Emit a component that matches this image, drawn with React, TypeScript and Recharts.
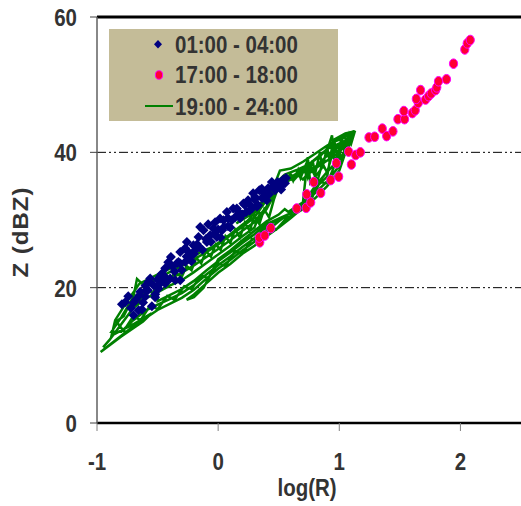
import React from 'react';
import { ScatterChart, Scatter, XAxis, YAxis, ReferenceLine, Legend } from 'recharts';

// log(R), Z(dBZ) pairs
const blue0104: [number, number][] = [
  [-0.794, 17.56], [-0.698, 17.76], [-0.698, 15.94], [-0.629, 16.78], [-0.547, 17.27], [-0.649, 18.89],
  [-0.602, 18.64], [-0.657, 16.68], [-0.643, 19.38], [-0.575, 20.86], [-0.561, 21.36], [-0.533, 20.37],
  [-0.505, 20.12], [-0.492, 19.88], [-0.464, 21.11], [-0.464, 22.1], [-0.437, 20.62], [-0.396, 21.36],
  [-0.354, 21.11], [-0.313, 21.11], [-0.313, 23.57], [-0.272, 23.81], [-0.39, 24.55], [-0.327, 23.81],
  [-0.313, 25.28], [-0.258, 26.76], [-0.245, 25.28], [-0.204, 26.27], [-0.162, 27.5], [-0.121, 28.49],
  [-0.093, 26.76], [-0.148, 28.97], [-0.066, 27.75], [-0.039, 28.74], [-0.011, 27.5], [0.016, 30.21],
  [0.044, 29.96], [0.072, 31.19], [0.113, 29.96], [0.124, 31.69], [0.154, 31.69], [0.181, 30.26],
  [0.209, 32.43], [0.231, 31.14], [0.264, 32.18], [0.289, 33.95], [0.305, 33.4], [0.33, 32.18],
  [0.34, 34.39], [0.363, 33.21], [0.401, 32.91], [0.412, 34.69], [0.443, 35.62], [0.47, 34.39],
  [0.511, 34.88], [0.538, 35.97], [0.552, 35.42], [-0.437, 22.88], [-0.379, 23.17], [-0.231, 24.65],
  [-0.19, 25.53], [-0.082, 29.37], [0.082, 29.08], [0.165, 30.7], [0.247, 32.91], [0.371, 34.1],
  [0.478, 35.28], [-0.767, 17.86], [-0.742, 18.75], [-0.594, 19.63], [-0.519, 19.04], [-0.478, 21.7],
  [-0.412, 23.76], [-0.272, 25.83], [-0.173, 26.42], [-0.025, 29.67], [0.033, 28.49], [0.28, 31.73],
  [-0.72, 17.0], [-0.68, 18.2], [-0.62, 17.8], [-0.58, 19.6], [-0.52, 18.6], [-0.48, 20.6], [-0.45, 21.8],
  [-0.42, 21.2], [-0.36, 22.4], [-0.34, 23.6], [-0.3, 22.6], [-0.26, 24.6], [-0.22, 23.9], [-0.2, 25.0],
  [-0.16, 26.0], [-0.13, 25.6], [-0.1, 27.2], [-0.06, 26.8], [-0.03, 28.0], [0.0, 28.6], [0.02, 27.4],
  [0.05, 29.0], [0.08, 30.3], [0.1, 28.9], [0.14, 30.4], [0.17, 31.2], [0.2, 30.8], [0.22, 32.2],
  [0.26, 31.4], [0.3, 33.0], [0.32, 32.0], [0.36, 34.6], [0.38, 33.6], [0.42, 33.8], [0.45, 34.9],
  [0.49, 35.6], [0.52, 34.5], [0.56, 36.2], [-0.5, 21.2], [-0.6, 20.3],
];

const red1718: [number, number][] = [
  [0.344, 26.7], [0.34, 27.4], [0.385, 27.7], [0.434, 28.8], [0.649, 31.7], [0.727, 31.8], [0.764, 32.6],
  [0.731, 33.8], [0.847, 34.0], [0.789, 35.6], [0.929, 35.9], [0.995, 36.4], [0.976, 38.4], [1.1, 38.2],
  [1.077, 40.1], [1.135, 39.6], [1.174, 40.0], [1.245, 42.2], [1.292, 42.3], [1.355, 43.5], [1.391, 42.4],
  [1.443, 43.1], [1.484, 44.9], [1.539, 44.9], [1.533, 46.1], [1.603, 45.8], [1.627, 46.2], [1.652, 47.3],
  [1.636, 47.9], [1.671, 49.2], [1.712, 47.8], [1.737, 48.3], [1.759, 48.7], [1.795, 49.2], [1.805, 49.6],
  [1.819, 50.5], [1.885, 50.8], [1.943, 53.1], [2.036, 55.2], [2.056, 56.1], [2.081, 56.6],
];

// one continuous trace, in time order
const green1924: [number, number][] = [
  [-0.95, 11.2], [-0.9, 12.2], [-0.8, 14.6], [-0.7, 17.0], [-0.6, 18.4], [-0.5, 19.3], [-0.4, 20.3],
  [-0.3, 21.1], [-0.2, 22.3], [-0.1, 23.6], [0.0, 24.9], [0.1, 26.2], [0.2, 27.6], [0.3, 28.9],
  [0.35, 31.2], [0.32, 29.8], [0.4, 31.6], [0.5, 35.0], [0.6, 36.0], [0.7, 37.0], [0.8, 37.6],
  [0.9, 38.8], [1.0, 40.1], [1.12, 43.0],
  [1.1, 41.7], [1.0, 38.0], [0.9, 35.7], [0.8, 34.0], [0.7, 32.0], [0.6, 31.1], [0.5, 29.8],
  [0.4, 28.3], [0.3, 26.8], [0.2, 25.5], [0.1, 24.1], [0.0, 22.8], [-0.1, 21.3], [-0.2, 19.7],
  [-0.3, 18.5], [-0.4, 17.6], [-0.5, 16.7], [-0.6, 15.5], [-0.7, 14.3], [-0.8, 12.9], [-0.9, 11.5],
  [-0.97, 10.5],
  [-0.8, 12.8], [-0.62, 15.0], [-0.55, 16.2], [-0.7, 14.6], [-0.88, 12.9],
  [-0.85, 15.2], [-0.75, 18.0], [-0.65, 20.6], [-0.55, 21.5], [-0.45, 22.4], [-0.35, 23.2], [-0.25, 24.1],
  [-0.15, 25.2], [-0.05, 26.0], [0.05, 27.2], [0.15, 28.6], [0.25, 30.0], [0.35, 32.2], [0.45, 35.0],
  [0.55, 36.7], [0.65, 37.4], [0.75, 38.2], [0.85, 39.6], [0.95, 41.5], [1.05, 42.2],
  [1.08, 41.0], [1.0, 39.0], [0.9, 37.1], [0.8, 35.0], [0.7, 32.4], [0.6, 31.0], [0.5, 30.2],
  [0.4, 29.4], [0.3, 27.9], [0.2, 26.6], [0.1, 25.2], [0.0, 23.9], [-0.1, 22.5], [-0.2, 21.0],
  [-0.3, 19.8], [-0.4, 18.9], [-0.5, 18.0],
  [-0.5, 20.4], [-0.4, 21.3], [-0.3, 22.2], [-0.2, 23.3], [-0.1, 24.5], [0.0, 25.7], [0.1, 27.0],
  [0.2, 28.4], [0.3, 29.7], [0.4, 32.0], [0.5, 35.6], [0.6, 36.4], [0.7, 37.2], [0.8, 37.8],
  [0.9, 39.5], [1.0, 41.0], [1.1, 42.6],
  [1.0, 37.3], [0.9, 35.0], [0.8, 33.2], [0.7, 31.8], [0.6, 30.3], [0.5, 28.9], [0.4, 27.6],
  [0.3, 26.2], [0.2, 25.0], [0.1, 23.5], [0.0, 22.2], [-0.1, 20.6], [-0.2, 19.0], [-0.26, 18.2],
  [-0.2, 18.6], [-0.12, 20.0],
  [0.0, 24.2], [0.1, 25.5], [0.2, 27.0], [0.3, 28.4], [0.4, 29.8], [0.5, 30.8], [0.55, 31.6],
  [0.58, 31.2], [0.7, 32.6], [0.74, 39.3], [0.76, 35.5], [0.85, 37.5], [0.94, 42.5], [0.96, 38.8],
  [1.03, 40.8],
  [1.0, 41.3], [0.9, 40.5], [0.8, 39.0], [0.7, 37.5], [0.6, 36.3], [0.5, 35.5], [0.4, 33.0],
  [0.3, 30.4], [0.2, 29.0], [0.1, 27.7], [0.0, 26.4], [-0.1, 25.2], [-0.2, 24.2], [-0.3, 23.2],
  [-0.4, 22.3], [-0.5, 21.4], [-0.6, 20.1], [-0.67, 21.3], [-0.7, 18.6], [-0.8, 15.6], [-0.88, 13.5],
  [-0.8, 13.5], [-0.7, 15.2], [-0.6, 16.6], [-0.5, 17.5], [-0.4, 18.3], [-0.3, 19.2], [-0.2, 20.4],
  [-0.1, 21.9], [0.0, 23.3], [0.1, 24.6], [0.2, 26.0], [0.3, 27.3], [0.4, 29.0], [0.5, 30.2],
  [0.6, 31.0], [0.7, 32.2], [0.8, 34.7], [0.9, 36.4],
  [0.95, 41.8], [1.05, 42.8], [1.12, 43.1], [1.0, 42.0], [0.9, 41.0], [0.8, 39.8], [0.7, 38.6],
  [0.6, 37.6], [0.51, 37.3], [0.45, 34.5], [0.35, 32.0], [0.25, 30.6], [0.15, 29.5],
  [0.3, 31.6], [0.45, 34.2], [0.55, 35.6], [0.6, 36.8], [0.62, 35.8], [0.66, 37.4], [0.68, 36.2],
  [0.72, 38.0], [0.74, 36.4], [0.78, 38.8], [0.8, 36.8], [0.84, 40.0], [0.86, 37.6], [0.9, 40.8],
  [0.92, 38.6], [0.96, 41.6], [0.98, 39.4], [1.02, 42.2], [1.04, 40.2], [1.08, 42.6], [1.1, 41.4],
  [1.13, 43.2],
  [1.06, 40.0], [1.02, 40.8], [0.98, 38.2], [0.94, 39.6], [0.9, 37.0], [0.86, 38.4], [0.82, 35.8],
  [0.78, 37.2], [0.74, 36.8], [0.7, 36.0], [0.66, 36.6], [0.62, 35.8], [0.58, 36.4], [0.54, 35.4],
  [0.5, 35.0], [0.46, 33.0], [0.42, 30.4], [0.38, 31.6], [0.34, 29.4], [0.3, 30.6], [0.26, 28.4],
  [0.22, 29.6], [0.18, 27.4], [0.14, 28.6], [0.1, 26.6], [0.06, 27.6], [0.02, 25.6], [-0.02, 26.4],
  [-0.06, 24.6], [-0.1, 25.4], [-0.14, 23.6], [-0.18, 24.4], [-0.22, 22.6], [-0.26, 23.2], [-0.3, 21.6],
  [-0.36, 22.2], [-0.42, 20.4], [-0.48, 21.2], [-0.54, 19.2], [-0.6, 19.8], [-0.66, 17.6], [-0.72, 18.0],
  [-0.78, 15.8], [-0.84, 15.0],
  [-0.78, 13.6], [-0.7, 15.8], [-0.64, 15.2], [-0.56, 17.4], [-0.5, 16.8], [-0.42, 18.8], [-0.36, 18.2],
  [-0.28, 20.2], [-0.22, 19.8], [-0.14, 21.8], [-0.08, 21.4], [0.0, 23.6], [0.06, 23.2], [0.14, 25.4],
  [0.2, 25.0], [0.28, 27.2], [0.34, 26.8], [0.42, 29.0], [0.48, 28.6], [0.56, 30.2], [0.62, 30.8],
  [0.7, 31.6], [0.76, 32.8], [0.84, 35.6], [0.9, 35.4], [0.96, 38.0], [1.02, 39.4],
];

const xTicks = [-1, 0, 1, 2];
const yTicks = [0, 20, 40, 60];
const gridLevels = [20, 40];
const seriesNames = ['01:00 - 04:00', '17:00 - 18:00', '19:00 - 24:00'];

const toPts = (a: [number, number][]) => a.map(([x, y]) => ({ x, y }));

const FONT = '"Liberation Sans", Arial, Helvetica, sans-serif';
const TXT = '#333333';
const NAVY = '#000080';
const RED = '#FF0033';
const MAG = '#FF00FF';
const GREEN = '#008000';
const SX = 0.89;

const Diamond = (p: any) => {
  const { cx, cy } = p;
  if (cx == null || cy == null) return <g />;
  const r = 5;
  return <path d={`M${cx},${cy - r}L${cx + r},${cy}L${cx},${cy + r}L${cx - r},${cy}Z`} fill={NAVY} />;
};

const Dot = (p: any) => {
  const { cx, cy } = p;
  if (cx == null || cy == null) return <g />;
  return <ellipse cx={cx} cy={cy} rx={4.1} ry={4.8} fill={RED} stroke={MAG} strokeWidth={1} />;
};

const Nothing = () => <g />;

const XTick = (p: any) => (
  <text
    transform={`translate(${p.x},470) scale(${SX},1)`}
    textAnchor="middle"
    fontFamily={FONT}
    fontWeight="bold"
    fontSize={23}
    fill={TXT}
  >
    {p.payload.value}
  </text>
);

const YTick = (p: any) => (
  <text
    transform={`translate(77,${p.y + 9}) scale(${SX},1)`}
    textAnchor="end"
    fontFamily={FONT}
    fontWeight="bold"
    fontSize={23}
    fill={TXT}
  >
    {p.payload.value}
  </text>
);

const legendBaselines = [23.7, 54.3, 86];

const LegendBox = () => (
  <svg width={229} height={92} style={{ display: 'block' }}>
    <rect x={0} y={0} width={229} height={92} fill="#C4BC98" />
    <path d="M49,11L53,15.3L49,19.6L45,15.3Z" fill={NAVY} />
    <ellipse cx={50} cy={46} rx={3.6} ry={4.3} fill={RED} stroke={MAG} strokeWidth={1} />
    <line x1={36} y1={77} x2={64} y2={77} stroke={GREEN} strokeWidth={2} />
    {seriesNames.map((n, i) => (
      <text
        key={n}
        transform={`translate(66,${legendBaselines[i]}) scale(${SX},1)`}
        fontFamily={FONT}
        fontWeight="bold"
        fontSize={23}
        fill={TXT}
      >
        {n}
      </text>
    ))}
  </svg>
);

export default function App() {
  return (
    <div style={{ position: 'absolute', left: 0, top: 0, width: 521, height: 506, background: '#fff' }}>
      <ScatterChart width={521} height={506} margin={{ top: 17, right: 0, bottom: 23, left: 0 }}>
        <XAxis
          type="number"
          dataKey="x"
          domain={[-1, 2.5]}
          ticks={xTicks}
          allowDataOverflow
          height={60}
          axisLine={{ stroke: '#000', strokeWidth: 2.5 }}
          tickLine={{ stroke: '#808080', strokeWidth: 1 }}
          tickSize={8}
          tick={XTick}
          label={{
            content: () => (
              <text
                transform={`translate(307,496) scale(${SX},1)`}
                textAnchor="middle"
                fontFamily={FONT}
                fontWeight="bold"
                fontSize={23}
                fill={TXT}
              >
                log(R)
              </text>
            ),
          }}
        />
        <YAxis
          type="number"
          dataKey="y"
          domain={[0, 60]}
          ticks={yTicks}
          allowDataOverflow
          width={97}
          axisLine={{ stroke: '#606060', strokeWidth: 1.5 }}
          tickLine={{ stroke: '#404040', strokeWidth: 1 }}
          tickSize={7}
          tick={YTick}
          label={{
            content: () => (
              <text
                transform={`translate(27.5,232) scale(${SX},1) rotate(-90)`}
                textAnchor="middle"
                fontFamily={FONT}
                fontWeight="bold"
                fontSize={24}
                letterSpacing={1}
                fill={TXT}
              >
                Z (dBZ)
              </text>
            ),
          }}
        />
        {gridLevels.map((g) => (
          <ReferenceLine key={g} y={g} stroke="#000" strokeWidth={1} strokeDasharray="9 3 2 3 2 3" />
        ))}
        <ReferenceLine y={60} stroke="#000" strokeWidth={3} />
        <Legend
          layout="horizontal"
          verticalAlign="middle"
          align="center"
          content={LegendBox}
          wrapperStyle={{ position: 'absolute', left: 109, top: 29, width: 229, height: 92, margin: 0 }}
        />
        <Scatter
          name={seriesNames[2]}
          data={toPts(green1924)}
          line={{ stroke: GREEN, strokeWidth: 2.5 }}
          lineJointType="linear"
          shape={Nothing}
          isAnimationActive={false}
        />
        <Scatter name={seriesNames[0]} data={toPts(blue0104)} shape={Diamond} isAnimationActive={false} />
        <Scatter name={seriesNames[1]} data={toPts(red1718)} shape={Dot} isAnimationActive={false} />
      </ScatterChart>
    </div>
  );
}
